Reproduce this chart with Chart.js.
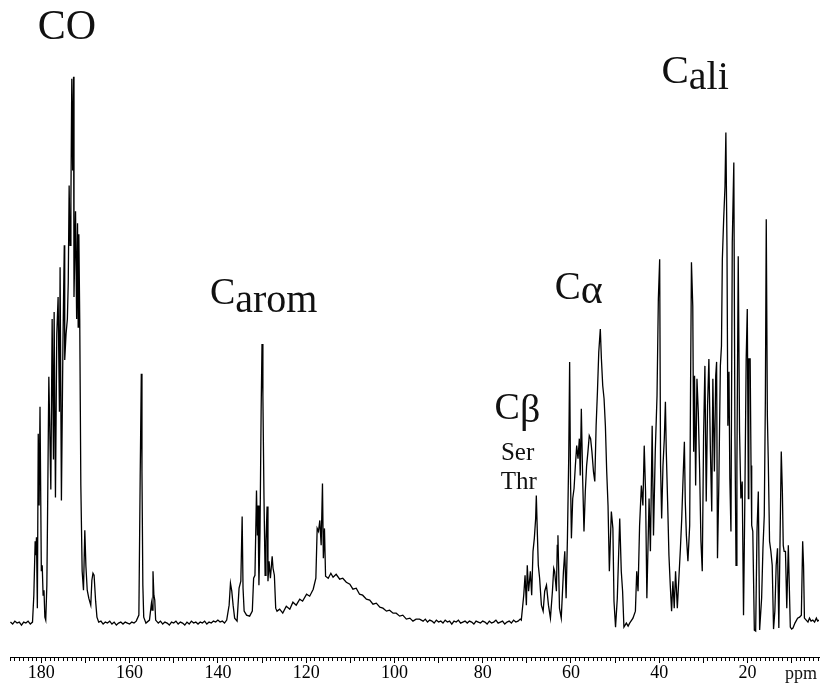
<!DOCTYPE html>
<html>
<head>
<meta charset="utf-8">
<script src="https://cdn.jsdelivr.net/npm/chart.js@4/dist/chart.umd.min.js"></script>
<style>
  html, body { margin: 0; padding: 0; background: #fff; }
  #wrap { width: 828px; height: 688px; }
</style>
</head>
<body>
<div id="wrap"><canvas id="nmrChart" width="828" height="688"></canvas></div>
<script>
// chemical shift (ppm) from left to right
var shiftPpm = [
  187.0, 186.5, 186.0, 185.5, 185.0, 184.5, 184.0, 183.5, 183.0, 182.5, 182.0,
  181.7, 181.4, 181.25, 181.1, 180.9, 180.7, 180.5, 180.3, 180.0, 179.8, 179.6, 179.4, 179.2, 179.0,
  178.75, 178.6, 178.3, 177.85, 177.55, 177.25, 177.1, 176.8, 176.5, 176.2, 175.9, 175.75, 175.45, 175.1,
  174.8, 174.7, 174.4, 174.1, 173.9, 173.7, 173.5, 173.3, 173.1, 172.9, 172.7, 172.6, 172.25, 172.0,
  171.8, 171.65, 171.5, 171.3, 171.05, 170.75, 170.45, 170.15, 169.9, 169.6, 169.25, 168.8, 168.55, 168.3, 168.05, 167.7, 167.4, 167.0,
  166.5, 166.0, 165.5, 165.0, 164.5, 164.0, 163.5, 163.0, 162.5, 162.0, 161.5, 161.0, 160.5, 160.0, 159.5, 159.0, 158.5,
  157.9, 157.6, 157.35, 157.2, 157.0, 156.8, 156.3, 155.5, 155.05, 154.9, 154.7, 154.5, 154.3, 154.1,
  153.5, 153.0, 152.5, 152.0, 151.5, 151.0, 150.5, 150.0, 149.5, 149.0, 148.5, 148.0, 147.5, 147.0, 146.5,
  146.0, 145.5, 145.0, 144.5, 144.0, 143.5, 143.0, 142.5, 142.0, 141.5, 141.0, 140.5, 140.0, 139.5, 139.0, 138.5, 138.0,
  137.45, 137.15, 136.85, 136.55, 136.2, 135.65, 135.2, 134.8, 134.5, 134.3, 134.05, 133.5, 132.8, 132.2,
  131.9, 131.6, 131.25, 131.05, 130.9, 130.7, 130.45, 130.2, 130.0, 129.8, 129.55, 129.3, 129.1, 128.85,
  128.65, 128.4, 128.1, 127.7, 127.5, 127.2, 126.9, 126.6, 126.0, 125.3, 124.5, 123.7, 123.0, 122.25, 121.45, 120.8, 119.9, 119.2, 118.4, 117.8,
  117.5, 117.2, 116.9, 116.6, 116.3, 116.1, 115.85, 115.6,
  115.0, 114.4, 113.9, 113.2, 112.4, 111.7, 110.9, 110.1, 109.4, 108.65, 107.9, 107.2, 106.35, 105.6, 104.85, 104.1, 103.3, 102.6, 101.8, 101.1, 100.3, 99.6, 98.8, 98.1, 97.3, 96.5, 95.8, 95.1, 94.3,
  93.5, 93.0, 92.5, 92.0, 91.5, 91.0, 90.5, 90.0, 89.5, 89.0, 88.5, 88.0, 87.5, 87.0, 86.5, 86.0, 85.5, 85.0, 84.5, 84.0, 83.5, 83.0,
  82.5, 82.0, 81.5, 81.0, 80.5, 80.0, 79.5, 79.0, 78.5, 78.0, 77.5, 77.0, 76.5, 76.0, 75.5, 75.0, 74.5, 74.0, 73.5, 73.0, 72.5, 72.0, 71.5,
  71.25, 70.7, 70.4, 70.1, 69.9, 69.6, 69.2, 68.9, 68.6, 68.3, 68.0, 67.85, 67.6, 67.4, 67.1, 66.7, 66.3, 65.95, 65.55, 65.1, 64.65, 64.2, 63.9, 63.7, 63.3, 63.1, 62.95, 62.6, 62.2,
  61.7, 61.4, 61.1, 60.8, 60.5, 60.3, 60.1, 59.9, 59.6, 59.3, 59.0, 58.7, 58.4, 58.1, 57.9, 57.65, 57.35, 57.05, 56.75, 56.45, 56.15, 55.85, 55.55, 55.25, 54.9, 54.6,
  54.3, 54.0, 53.7, 53.35, 53.1, 52.8, 52.5, 52.2, 51.9, 51.6, 51.3, 50.85, 50.5, 50.25, 49.9, 49.5, 48.95, 48.6, 48.3, 48.0, 47.45, 47.05, 46.7, 45.95, 45.4, 45.1, 44.8,
  44.45, 44.05, 43.7, 43.4, 43.1, 42.8, 42.3, 42.0, 41.6, 41.3, 40.9, 40.5, 40.2, 39.9, 39.7, 39.45, 39.15, 38.85, 38.6, 38.4, 38.1, 37.8, 37.5, 37.2, 36.9, 36.6, 36.3, 35.9, 35.55,
  35.2, 34.9, 34.6, 34.3, 34.1, 33.85, 33.5, 33.1, 32.9, 32.7, 32.4, 32.2, 32.0, 31.75, 31.45, 31.15, 30.85, 30.55, 30.25, 29.95, 29.65, 29.35, 29.05, 28.75, 28.4, 28.1, 27.85, 27.5, 27.2, 27.0, 26.8, 26.5,
  26.15, 25.9, 25.7, 25.4, 25.1, 24.9, 24.65, 24.45, 24.2, 24.0, 23.75, 23.45, 23.1, 22.85, 22.6, 22.4, 22.1, 21.8, 21.5, 21.2, 20.9, 20.6, 20.3, 20.05, 19.8, 19.7, 19.4, 19.2, 19.05, 18.8,
  18.45, 18.15, 17.85, 17.55, 17.25, 16.8, 16.5, 16.2, 15.95, 15.75, 15.5, 15.3, 15.0, 14.7, 14.4, 14.1, 13.8, 13.5, 13.2, 12.9, 12.6, 12.35, 12.1, 11.9, 11.7, 11.4, 11.1, 10.75, 10.5, 10.3,
  10.0, 9.7, 9.25, 8.65, 8.2, 7.8, 7.5, 7.3, 7.1, 6.7, 6.3, 5.95, 5.6, 5.2, 4.8, 4.4, 4.1, 3.8
];

// signal intensity (arbitrary units), same order as shiftPpm
var intensity = [
  3, 1, 4, 2, 3, 0, 3, 2, 4, 1, 3,
  30, 84, 70, 88, 17, 192, 120, 219, 54, 60, 30, 35, 8, 5,
  40, 106, 249, 136, 307, 166, 314, 128, 292, 329, 214, 359, 125, 284,
  381, 266, 292, 307, 344, 441, 381, 426, 548, 456, 550, 329, 415, 307,
  403, 299, 392, 307, 140, 54, 35, 95, 59, 35, 27, 20, 45, 52, 50, 24, 8, 3,
  4, 1, 3, 2, 4, 1, 3, 0, 2, 3, 1, 3, 2, 1, 3, 2, 4,
  10, 150, 252, 154, 40, 8, 2, 5, 22, 15, 54, 30, 25, 5,
  2, 4, 1, 3, 2, 0, 3, 2, 4, 1, 3, 2, 0, 3, 1,
  4, 2, 3, 1, 3, 2, 4, 1, 3, 2, 4, 3, 5, 3, 4, 2, 5,
  20, 42, 34, 20, 7, 4, 37, 44, 109, 37, 14, 10, 9, 14,
  47, 50, 135, 90, 120, 40, 94, 214, 282, 230, 127, 50, 84, 119,
  44, 64, 47, 69, 57, 50, 17, 14, 16, 12, 19, 16, 23, 20, 26, 24, 31, 29, 36, 47,
  97, 94, 105, 80, 142, 67, 97, 49,
  47, 52, 48, 51, 46, 47, 43, 41, 36, 37, 31, 30, 26, 25, 21, 22, 18, 17, 14, 15, 12, 12, 9, 10, 6, 7, 4, 6, 6,
  4, 6, 3, 5, 4, 2, 5, 3, 4, 2, 5, 3, 4, 1, 4, 3, 5, 2, 3, 4, 2, 4,
  3, 1, 4, 3, 2, 4, 3, 1, 4, 2, 3, 5, 2, 3, 4, 1, 3, 4, 2, 5, 3, 4, 6,
  5, 30, 50, 20, 60, 34, 54, 30, 74, 87, 107, 130, 90, 60, 47, 20, 14, 34, 40, 20, 7, 34, 57, 54, 34, 80, 90, 17, 7,
  54, 74, 27, 87, 170, 264, 147, 87, 127, 137, 160, 180, 167, 187, 150, 217, 147, 94, 134, 160, 174, 190, 187, 174, 154, 144,
  200, 234, 274, 297, 267, 240, 227, 200, 154, 120, 54, 114, 97, 24, -2, 27, 107, 54, 34, -2, 2, -1, 2, 7, 14, 54, 34,
  100, 140, 120, 180, 134, 27, 127, 74, 200, 90, 174, 230, 327, 367, 160, 107, 160, 187, 224, 174, 124, 70, 40, 14, 44, 17, 54, 17, 47,
  77, 107, 147, 184, 124, 90, 64, 100, 240, 364, 320, 174, 250, 140, 247, 214, 157, 84, 54, 190, 260, 124, 220, 267, 174, 114, 247, 154, 250, 264, 67, 140,
  260, 280, 367, 407, 440, 494, 380, 200, 254, 147, 94, 384, 464, 194, 60, 160, 370, 194, 127, 144, 10, 127, 267, 317, 127, 267, 267, 160, 100, 94,
  -5, -6, 94, 134, -5, 27, 77, 110, 227, 407, 210, 167, 84, 74, 60, -4, 14, 60, 77, -3, 94, 174, 134, 80, 74, 74, 17, 80, 34, -2,
  -4, -3, 2, 7, 8, 10, 84, 60, 7, 5, 3, 7, 4, 5, 3, 7, 4, 5
];

var tickLabels = [180, 160, 140, 120, 100, 80, 60, 40, 20];

// region labels (C + subscript) placed at ppm / intensity positions
var regionLabels = [
  { main: 'CO', sub: '', ppm: 180.8, h: 588, size: 42 },
  { main: 'C', sub: 'ali', ppm: 39.5, h: 544, size: 41, subSize: 40, drop: 6 },
  { main: 'C', sub: 'arom', ppm: 141.8, h: 322, size: 38, subSize: 40, drop: 8 },
  { main: 'C', sub: 'α', ppm: 63.7, h: 327, size: 39, subSize: 42, drop: 4 },
  { main: 'C', sub: 'β', ppm: 77.3, h: 207, size: 38, subSize: 40, drop: 3 }
];
var residueLabels = [
  { text: 'Ser', ppm: 72.1, h: 166 },
  { text: 'Thr', ppm: 71.8, h: 137 }
];

var points = shiftPpm.map(function (p, i) { return { x: p, y: intensity[i] }; });

var labelPlugin = {
  id: 'labelPlugin',
  afterDraw: function (chart) {
    var ctx = chart.ctx;
    var xs = chart.scales.x, ys = chart.scales.y;
    ctx.save();
    ctx.fillStyle = '#111';
    ctx.textBaseline = 'alphabetic';
    ctx.textAlign = 'left';
    regionLabels.forEach(function (l) {
      var px = xs.getPixelForValue(l.ppm);
      var py = ys.getPixelForValue(l.h);
      ctx.font = l.size + 'px "Liberation Serif"';
      ctx.fillText(l.main, px, py);
      if (l.sub) {
        var w = ctx.measureText(l.main).width;
        ctx.font = l.subSize + 'px "Liberation Serif"';
        ctx.fillText(l.sub, px + w, py + l.drop);
      }
    });
    ctx.textAlign = 'center';
    ctx.font = '25px "Liberation Serif"';
    residueLabels.forEach(function (l) {
      ctx.fillText(l.text, xs.getPixelForValue(l.ppm), ys.getPixelForValue(l.h));
    });
    // axis unit
    ctx.textAlign = 'left';
    ctx.font = '18px "Liberation Serif"';
    ctx.fillText('ppm', chart.chartArea.right - 34, chart.chartArea.bottom + 22);
    ctx.restore();
  }
};

var nmrChart = new Chart(document.getElementById('nmrChart').getContext('2d'), {
  type: 'line',
  data: {
    datasets: [{
      data: points,
      borderColor: '#000',
      borderWidth: 1.3,
      pointRadius: 0,
      tension: 0,
      fill: false
    }]
  },
  options: {
    responsive: false,
    animation: false,
    devicePixelRatio: 1,
    layout: { padding: { left: 10, right: 9, top: 0, bottom: 5 } },
    plugins: { legend: { display: false }, tooltip: { enabled: false } },
    scales: {
      x: {
        type: 'linear',
        reverse: true,
        min: 3.8,
        max: 187.1,
        border: { display: true, color: '#000', width: 1 },
        grid: {
          drawOnChartArea: false,
          tickLength: 6,
          tickColor: '#000',
          tickWidth: 1,
          tickBorderDash: function (c) {
            return (c.tick && c.tick.value % 10 !== 0) ? [3, 20] : [];
          }
        },
        ticks: {
          stepSize: 1,
          autoSkip: false,
          includeBounds: false,
          maxRotation: 0,
          padding: 1,
          color: '#000',
          font: { family: 'Liberation Serif', size: 18, lineHeight: 1 },
          callback: function (v) { return tickLabels.indexOf(v) >= 0 ? String(v) : ''; }
        }
      },
      y: {
        display: false,
        min: -32,
        max: 627
      }
    }
  },
  plugins: [labelPlugin]
});
</script>
</body>
</html>
